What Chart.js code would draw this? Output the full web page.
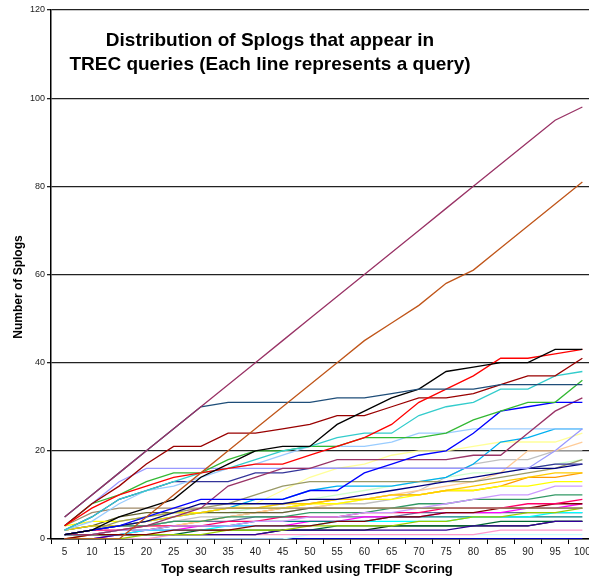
<!DOCTYPE html>
<html>
<head>
<meta charset="utf-8">
<script src="https://cdn.jsdelivr.net/npm/chart.js@4.4.0/dist/chart.umd.min.js"></script>
<style>
  html, body { margin: 0; padding: 0; background: #fff; overflow: hidden; }
  #wrap { position: relative; width: 600px; height: 577px; }
  #title {
    position: absolute; left: 40px; top: 28px; width: 460px;
    text-align: center; font: bold 19px "Liberation Sans", Arial, sans-serif;
    line-height: 24px; color: #000;
  }
  #xtitle {
    position: absolute; left: 107px; top: 561px; width: 400px;
    text-align: center; font: bold 13px "Liberation Sans", Arial, sans-serif;
    line-height: 16px; color: #000;
  }
  #ytitle {
    position: absolute; left: 18px; top: 287px; width: 160px;
    transform: translate(-50%, -50%) rotate(-90deg);
    text-align: center; font: bold 12px "Liberation Sans", Arial, sans-serif;
    line-height: 14px; color: #000;
  }
</style>
</head>
<body>
<div id="wrap">
  <canvas id="chart" width="600" height="577"></canvas>
  <div id="title">Distribution of Splogs that appear in<br>TREC queries (Each line represents a query)</div>
  <div id="xtitle">Top search results ranked using TFIDF Scoring</div>
  <div id="ytitle">Number of Splogs</div>
</div>
<script>
// x categories: top N search results
let categories = [5, 10, 15, 20, 25, 30, 35, 40, 45, 50, 55, 60, 65, 70, 75, 80, 85, 90, 95, 100];

// splog counts per query
let q1  = [5, 10, 15, 20, 25, 30, 35, 40, 45, 50, 55, 60, 65, 70, 75, 80, 85, 90, 95, 98];
let q2  = [0, 0, 0, 5, 10, 15, 20, 25, 30, 35, 40, 45, 49, 53, 58, 61, 66, 71, 76, 81];
let q3  = [5, 10, 15, 20, 25, 30, 31, 31, 31, 31, 32, 32, 33, 34, 34, 34, 35, 35, 35, 35];
let q4  = [1, 2, 5, 7, 9, 14, 17, 20, 21, 21, 26, 29, 32, 34, 38, 39, 40, 40, 43, 43];
let q5  = [3, 7, 10, 12, 14, 15, 16, 17, 17, 19, 21, 23, 26, 31, 34, 37, 41, 41, 42, 43];
let q6  = [3, 8, 12, 17, 21, 21, 24, 24, 25, 26, 28, 28, 30, 32, 32, 33, 35, 37, 37, 41];
let q7  = [2, 5, 9, 11, 13, 15, 16, 18, 20, 21, 23, 24, 24, 28, 30, 31, 34, 34, 37, 38];
let q8  = [3, 8, 10, 13, 15, 15, 18, 20, 20, 21, 21, 23, 23, 23, 24, 27, 29, 31, 31, 36];
let q9  = [1, 2, 3, 5, 7, 9, 9, 9, 9, 11, 11, 15, 17, 19, 20, 24, 29, 30, 31, 31];
let q10 = [1, 1, 2, 3, 5, 7, 12, 14, 16, 16, 18, 18, 18, 18, 18, 19, 19, 24, 29, 32];
let q11 = [3, 8, 13, 16, 16, 16, 16, 16, 16, 16, 16, 16, 16, 16, 16, 16, 16, 16, 20, 25];
let q12 = [2, 4, 8, 11, 12, 14, 16, 17, 19, 21, 21, 21, 22, 24, 24, 25, 25, 25, 25, 25];
let q13 = [2, 5, 9, 11, 13, 13, 13, 15, 15, 16, 16, 16, 16, 16, 16, 16, 16, 16, 17, 17];
let q14 = [1, 2, 3, 4, 6, 8, 8, 8, 8, 9, 9, 10, 11, 12, 13, 14, 15, 16, 16, 17];
let q15 = [1, 2, 4, 5, 6, 7, 8, 10, 12, 13, 13, 13, 13, 13, 13, 13, 14, 15, 16, 18];
let q16 = [3, 6, 7, 7, 7, 7, 7, 7, 7, 7, 7, 7, 7, 7, 7, 7, 7, 7, 7, 7];
let q17 = [2, 3, 3, 4, 5, 6, 7, 7, 8, 8, 9, 9, 10, 10, 11, 12, 13, 14, 15, 15];
let q18 = [3, 4, 4, 5, 6, 6, 7, 7, 7, 8, 8, 9, 9, 10, 11, 11, 12, 12, 13, 13];
let q19 = [1, 1, 2, 2, 3, 3, 3, 4, 4, 5, 5, 6, 6, 7, 8, 9, 10, 10, 12, 12];
let q20 = [2, 3, 3, 3, 4, 4, 5, 5, 5, 6, 6, 6, 7, 8, 8, 9, 9, 9, 10, 10];
let q21 = [1, 2, 2, 3, 3, 3, 4, 4, 5, 5, 5, 6, 6, 6, 7, 7, 7, 8, 8, 9];
let q22 = [0, 1, 1, 1, 2, 2, 2, 3, 3, 3, 4, 4, 5, 5, 6, 6, 7, 7, 8, 8];
let q23 = [2, 3, 5, 6, 6, 6, 6, 6, 6, 7, 7, 7, 7, 7, 7, 7, 7, 7, 7, 7];
let q24 = [0, 0, 0, 1, 1, 1, 2, 2, 2, 3, 3, 3, 3, 4, 4, 5, 5, 6, 6, 7];
let q25 = [1, 1, 1, 2, 2, 2, 3, 3, 3, 3, 4, 4, 4, 4, 4, 5, 5, 5, 6, 6];
let q26 = [1, 1, 2, 2, 3, 3, 3, 4, 4, 4, 4, 4, 5, 5, 5, 5, 5, 5, 5, 5];
let q27 = [0, 0, 1, 1, 1, 1, 1, 1, 2, 2, 2, 2, 2, 2, 2, 3, 3, 3, 4, 4];
let q28 = [0, 0, 0, 0, 1, 1, 1, 1, 1, 1, 1, 1, 1, 1, 1, 1, 2, 2, 2, 2];
let q29 = [0, 0, 0, 0, 0, 0, 0, 0, 0, 1, 1, 1, 1, 1, 1, 1, 1, 1, 1, 1];
let q30 = [0, 0, 0, 0, 0, 0, 0, 0, 0, 0, 0, 0, 0, 0, 0, 0, 0, 0, 0, 0];
let q31 = [1, 1, 1, 1, 1, 2, 2, 2, 2, 2, 3, 3, 3, 3, 3, 3, 4, 4, 4, 4];
let q32 = [0, 0, 1, 2, 2, 3, 3, 3, 3, 4, 4, 5, 5, 5, 6, 6, 6, 7, 7, 8];
let q33 = [1, 2, 3, 4, 5, 6, 7, 9, 9, 11, 12, 12, 12, 13, 14, 17, 22, 23, 25, 25];
let q34 = [1, 1, 2, 3, 3, 4, 5, 6, 7, 7, 8, 9, 10, 11, 12, 13, 15, 20, 20, 22];
let q35 = [1, 2, 3, 3, 4, 5, 5, 6, 6, 7, 8, 8, 9, 11, 14, 17, 18, 18, 20, 20];
let q36 = [1, 2, 3, 4, 5, 6, 7, 8, 11, 14, 16, 17, 19, 20, 20, 21, 22, 22, 22, 24];
let q37 = [1, 2, 3, 4, 5, 6, 6, 7, 8, 9, 10, 11, 12, 13, 14, 15, 15, 16, 17, 18];
let q38 = [0, 1, 1, 2, 3, 4, 5, 6, 7, 8, 9, 9, 10, 10, 11, 11, 12, 14, 14, 15];
let q39 = [1, 2, 3, 3, 4, 4, 4, 5, 5, 5, 5, 5, 5, 6, 6, 6, 6, 6, 6, 6];
let q40 = [1, 1, 1, 1, 1, 1, 1, 1, 2, 2, 2, 2, 3, 3, 3, 3, 3, 3, 4, 4];

let queries = [q1, q2, q3, q4, q5, q6, q7, q8, q9, q10, q11, q12, q13, q14, q15, q16, q17, q18, q19, q20,
  q21, q22, q23, q24, q25, q26, q27, q28, q29, q30, q31, q32, q33, q34, q35, q36, q37, q38, q39, q40];

let lineColors = ['#993366', '#c0561a', '#1f4e79', '#000000', '#ff0000', '#990000', '#33cccc', '#33b833',
  '#0000ff', '#993366', '#9999ff', '#99ccff', '#333399', '#000080', '#999966', '#a08a6a', '#ffcc00', '#ffff00',
  '#cc99ff', '#339966', '#ff0066', '#800000', '#666633', '#99cc00', '#00ffff', '#008080', '#330099', '#ff99cc',
  '#ccffff', '#0000ff', '#006633', '#ff00ff', '#00b0f0', '#ffcc99', '#c0c0c0', '#ffff99', '#ccffcc', '#ff9900',
  '#666699', '#003300'];

let yTicks = [0, 20, 40, 60, 80, 100, 120];

let font = '"Liberation Sans", Arial, sans-serif';

let chart = new Chart(document.getElementById('chart'), {
  type: 'line',
  data: {
    labels: categories,
    datasets: queries.map((vals, i) => ({
      label: 'Query ' + (i + 1),
      data: vals,
      borderColor: lineColors[i],
      borderWidth: 1.3,
      pointRadius: 0,
      tension: 0,
      fill: false,
    })),
  },
  options: {
    responsive: false,
    animation: false,
    layout: { padding: { top: 10, right: 4, left: 0, bottom: 0 } },
    plugins: {
      legend: { display: false },
      tooltip: { enabled: false },
    },
    scales: {
      x: {
        offset: true,
        grid: { offset: true, drawOnChartArea: false, color: '#000', tickLength: 5, lineWidth: 1 },
        border: { color: '#000', width: 1.5 },
        ticks: { color: '#222', font: { family: font, size: 10 }, padding: 2, maxRotation: 0, autoSkip: false },
        afterFit: (scale) => { scale.height = 38; },
      },
      y: {
        min: 0,
        max: 120,
        afterBuildTicks: (scale) => { scale.ticks = yTicks.map(v => ({ value: v })); },
        grid: { color: '#222', lineWidth: 1.3, tickLength: 4 },
        border: { color: '#000', width: 1.5 },
        ticks: { color: '#222', font: { family: font, size: 9 }, padding: 2 },
        afterFit: (scale) => { scale.width = 51; },
      },
    },
  },
});
</script>
</body>
</html>
